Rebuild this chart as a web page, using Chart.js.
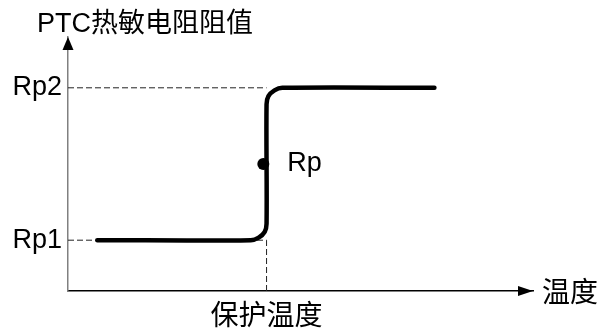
<!DOCTYPE html>
<html>
<head>
<meta charset="utf-8">
<script src="https://cdn.jsdelivr.net/npm/chart.js@4/dist/chart.umd.min.js"></script>
<style>
  html, body { margin: 0; padding: 0; background: #fff; }
  #wrap { width: 598px; height: 329px; }
</style>
</head>
<body>
<div id="wrap"><canvas id="chart" width="598" height="329"></canvas></div>
<script>
// curve (temperature 0..100, resistance 0..10)
const tempPos = [6.3, 39.3, 41.0, 42.3, 42.7, 42.7, 43.1, 44.4, 46.1, 78.8];
const resistance = [2, 2, 2.1, 2.33, 2.65, 7.35, 7.67, 7.9, 8, 8];

const rpTemp = [42];
const rpValue = [5];

const protectTemp = 42.7;
const rp1 = 2;
const rp2 = 8;

const yTickValues = [rp1, rp2];
const yTickLabels = ['Rp1', 'Rp2'];
const xTickValues = [protectTemp];
const xTickLabels = ['保护温度'];

const latin = "'Liberation Sans', Arial, 'Noto Sans CJK SC', sans-serif";
const cjk = "'Noto Sans CJK SC', sans-serif";

function pts(xs, ys) {
    return xs.map((x, i) => ({ x: x, y: ys[i] }));
}

const dashStyle = {
    borderColor: '#222',
    borderWidth: 1,
    borderDash: [6, 3],
    pointRadius: 0,
    fill: false,
    tension: 0
};

const arrowsAndText = {
    id: 'arrowsAndText',
    afterDraw(chart) {
        const ctx = chart.ctx;
        const a = chart.chartArea;
        const x = chart.scales.x;
        const y = chart.scales.y;
        ctx.save();
        ctx.fillStyle = '#000';

        // y arrow
        ctx.beginPath();
        ctx.moveTo(a.left, a.top);
        ctx.lineTo(a.left - 5.5, a.top + 13);
        ctx.lineTo(a.left + 5.5, a.top + 13);
        ctx.closePath();
        ctx.fill();

        // x arrow
        ctx.beginPath();
        ctx.moveTo(a.right, a.bottom);
        ctx.lineTo(a.right - 15, a.bottom - 5);
        ctx.lineTo(a.right - 15, a.bottom + 5);
        ctx.closePath();
        ctx.fill();

        // axis names
        ctx.textBaseline = 'alphabetic';
        ctx.textAlign = 'left';
        ctx.font = '27px ' + latin;
        ctx.fillText('PTC热敏电阻阻值', 37, 32);

        ctx.textBaseline = 'middle';
        ctx.font = '28px ' + cjk;
        ctx.fillText('温度', a.right + 9, a.bottom);

        // Rp label next to the point
        ctx.font = '27px ' + latin;
        ctx.fillText('Rp', x.getPixelForValue(rpTemp[0]) + 24, y.getPixelForValue(rpValue[0]));
        ctx.restore();
    }
};

new Chart(document.getElementById('chart'), {
    type: 'line',
    data: {
        datasets: [
            {
                data: pts(rpTemp, rpValue),
                showLine: false,
                pointRadius: 6,
                pointBackgroundColor: '#000',
                pointBorderWidth: 0
            },
            {
                data: pts(tempPos, resistance),
                borderColor: '#000',
                borderWidth: 4.5,
                borderCapStyle: 'round',
                borderJoinStyle: 'round',
                pointRadius: 0,
                tension: 0.3,
                fill: false
            },
            Object.assign({ data: [{ x: 0, y: rp2 }, { x: protectTemp, y: rp2 }] }, dashStyle),
            Object.assign({ data: [{ x: 0, y: rp1 }, { x: protectTemp, y: rp1 }] }, dashStyle),
            Object.assign({ data: [{ x: protectTemp, y: 0 }, { x: protectTemp, y: rp1 }] }, dashStyle)
        ]
    },
    options: {
        responsive: false,
        animation: false,
        layout: { padding: { top: 37, right: 65, left: 0, bottom: 0 } },
        plugins: {
            legend: { display: false },
            tooltip: { enabled: false }
        },
        scales: {
            x: {
                type: 'linear',
                min: 0,
                max: 100,
                grid: { display: false, drawTicks: false },
                border: { display: true, color: '#000', width: 1.5 },
                afterBuildTicks: s => { s.ticks = xTickValues.map(v => ({ value: v })); },
                afterFit: s => { s.height = 38; },
                ticks: {
                    autoSkip: false,
                    maxRotation: 0,
                    padding: 7,
                    color: '#000',
                    font: { family: cjk, size: 28 },
                    callback: v => xTickLabels[xTickValues.indexOf(v)]
                }
            },
            y: {
                type: 'linear',
                min: 0,
                max: 10,
                grid: { display: false, drawTicks: false },
                border: { display: true, color: '#808080', width: 1.5 },
                afterBuildTicks: s => { s.ticks = yTickValues.map(v => ({ value: v })); },
                afterFit: s => { s.width = 68; },
                ticks: {
                    padding: 6,
                    color: '#000',
                    font: { family: latin, size: 27 },
                    callback: v => yTickLabels[yTickValues.indexOf(v)]
                }
            }
        }
    },
    plugins: [arrowsAndText]
});
</script>
</body>
</html>
